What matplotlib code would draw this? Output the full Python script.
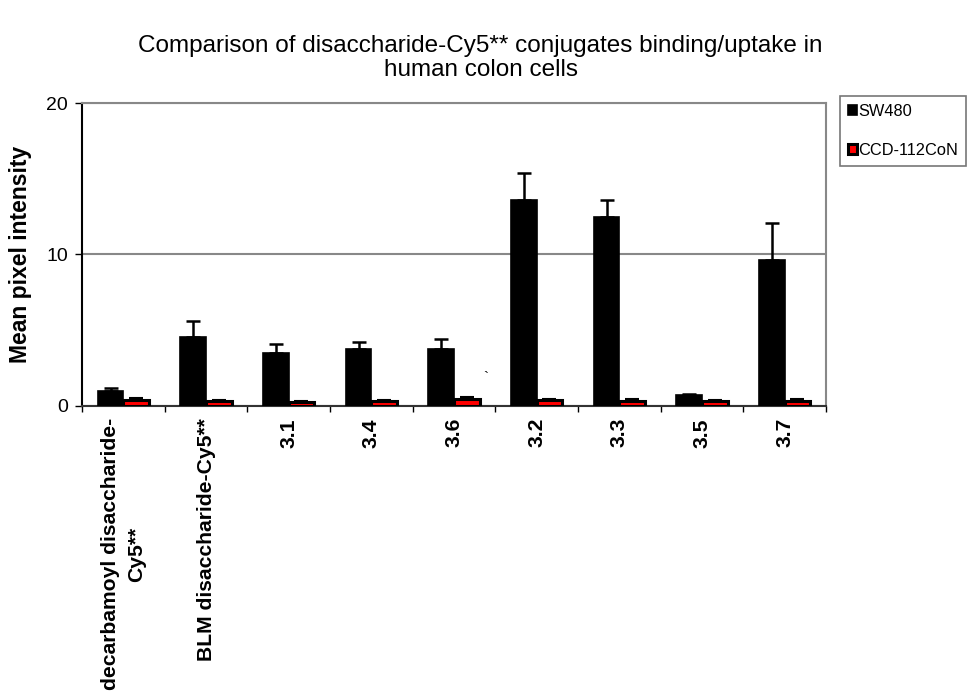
import matplotlib
matplotlib.use("Agg")
import matplotlib.pyplot as plt
import numpy as np

categories = ["decarbamoyl disaccharide-\nCy5**", "BLM disaccharide-Cy5**",
              "3.1", "3.4", "3.6", "3.2", "3.3", "3.5", "3.7"]
sw480 = [0.95, 4.5, 3.5, 3.75, 3.76, 13.6, 12.45, 0.7, 9.65]
sw480_err = [0.22, 1.08, 0.55, 0.45, 0.65, 1.8, 1.15, 0.05, 2.4]
ccd = [0.38, 0.3, 0.25, 0.3, 0.4, 0.35, 0.33, 0.32, 0.33]
ccd_err = [0.1, 0.05, 0.03, 0.07, 0.14, 0.07, 0.08, 0.06, 0.08]
series_names = ["SW480", "CCD-112CoN"]
y_ticks = [0, 10, 20]

plt.rcParams["font.family"] = ["Liberation Sans", "DejaVu Sans"]

fig = plt.figure(figsize=(9.67, 6.92), dpi=100)
ax = fig.add_axes([82 / 967, 1 - 405.5 / 692, (826 - 82) / 967, (405.5 - 103) / 692])

x = np.arange(len(categories))
w = 0.31
ax.bar(x - w / 2, sw480, w, color="black", edgecolor="black", linewidth=1.2,
       label=series_names[0], zorder=3)
ax.errorbar(x - w / 2, sw480, yerr=[np.zeros(len(sw480)), sw480_err], fmt="none",
            ecolor="black", elinewidth=1.8, capsize=5, capthick=1.8, zorder=4)
ax.bar(x + w / 2, ccd, w, color="#ff0000", edgecolor="black", linewidth=2.2,
       label=series_names[1], zorder=3)
ax.errorbar(x + w / 2, ccd, yerr=[np.zeros(len(ccd)), ccd_err], fmt="none",
            ecolor="black", elinewidth=1.5, capsize=5, capthick=1.5, zorder=4)

ax.set_xlim(-0.5, len(categories) - 0.5)
ax.set_ylim(0, 20)
ax.set_yticks(y_ticks)
ax.tick_params(axis="y", labelsize=14, length=5, width=1, direction="out", pad=5)
ax.set_xticks(x)
ax.set_xticklabels(categories, rotation=90, fontsize=15.2, fontweight="bold",
                   va="top", ha="center", linespacing=1.5)
ax.tick_params(axis="x", length=0, pad=9)
ax.set_xticks(np.arange(len(categories) + 1) - 0.5, minor=True)
ax.tick_params(axis="x", which="minor", length=4, width=1, color="black")

ax.yaxis.grid(True, color="#888888", linewidth=1.5, zorder=0)
ax.set_axisbelow(True)
for side in ["top", "right"]:
    ax.spines[side].set_color("#888888")
    ax.spines[side].set_linewidth(1.5)
ax.spines["left"].set_color("black")
ax.spines["left"].set_linewidth(1.5)
ax.spines["bottom"].set_color("#333333")
ax.spines["bottom"].set_linewidth(1.5)

ax.set_ylabel("Mean pixel intensity", fontsize=16.5, fontweight="bold", labelpad=10)

fig.text(0.497, 1 - 58 / 692, "Comparison of disaccharide-Cy5** conjugates binding/uptake in\nhuman colon cells",
         ha="center", va="center", fontsize=17.5, linespacing=1.12)

# stray tick mark inside the plot area
ax.text(4.38, 1.85, "`", fontsize=11, ha="center", va="center")

leg = fig.legend(loc="upper left", bbox_to_anchor=(840 / 967, 1 - 96 / 692),
                 fontsize=11.8, frameon=True, fancybox=False, edgecolor="#555555",
                 handlelength=0.55, handleheight=0.55, handletextpad=0.05,
                 labelspacing=1.45, borderpad=0.5, borderaxespad=0)
leg.get_frame().set_linewidth(1.2)

fig.savefig("out.png", dpi=100)
